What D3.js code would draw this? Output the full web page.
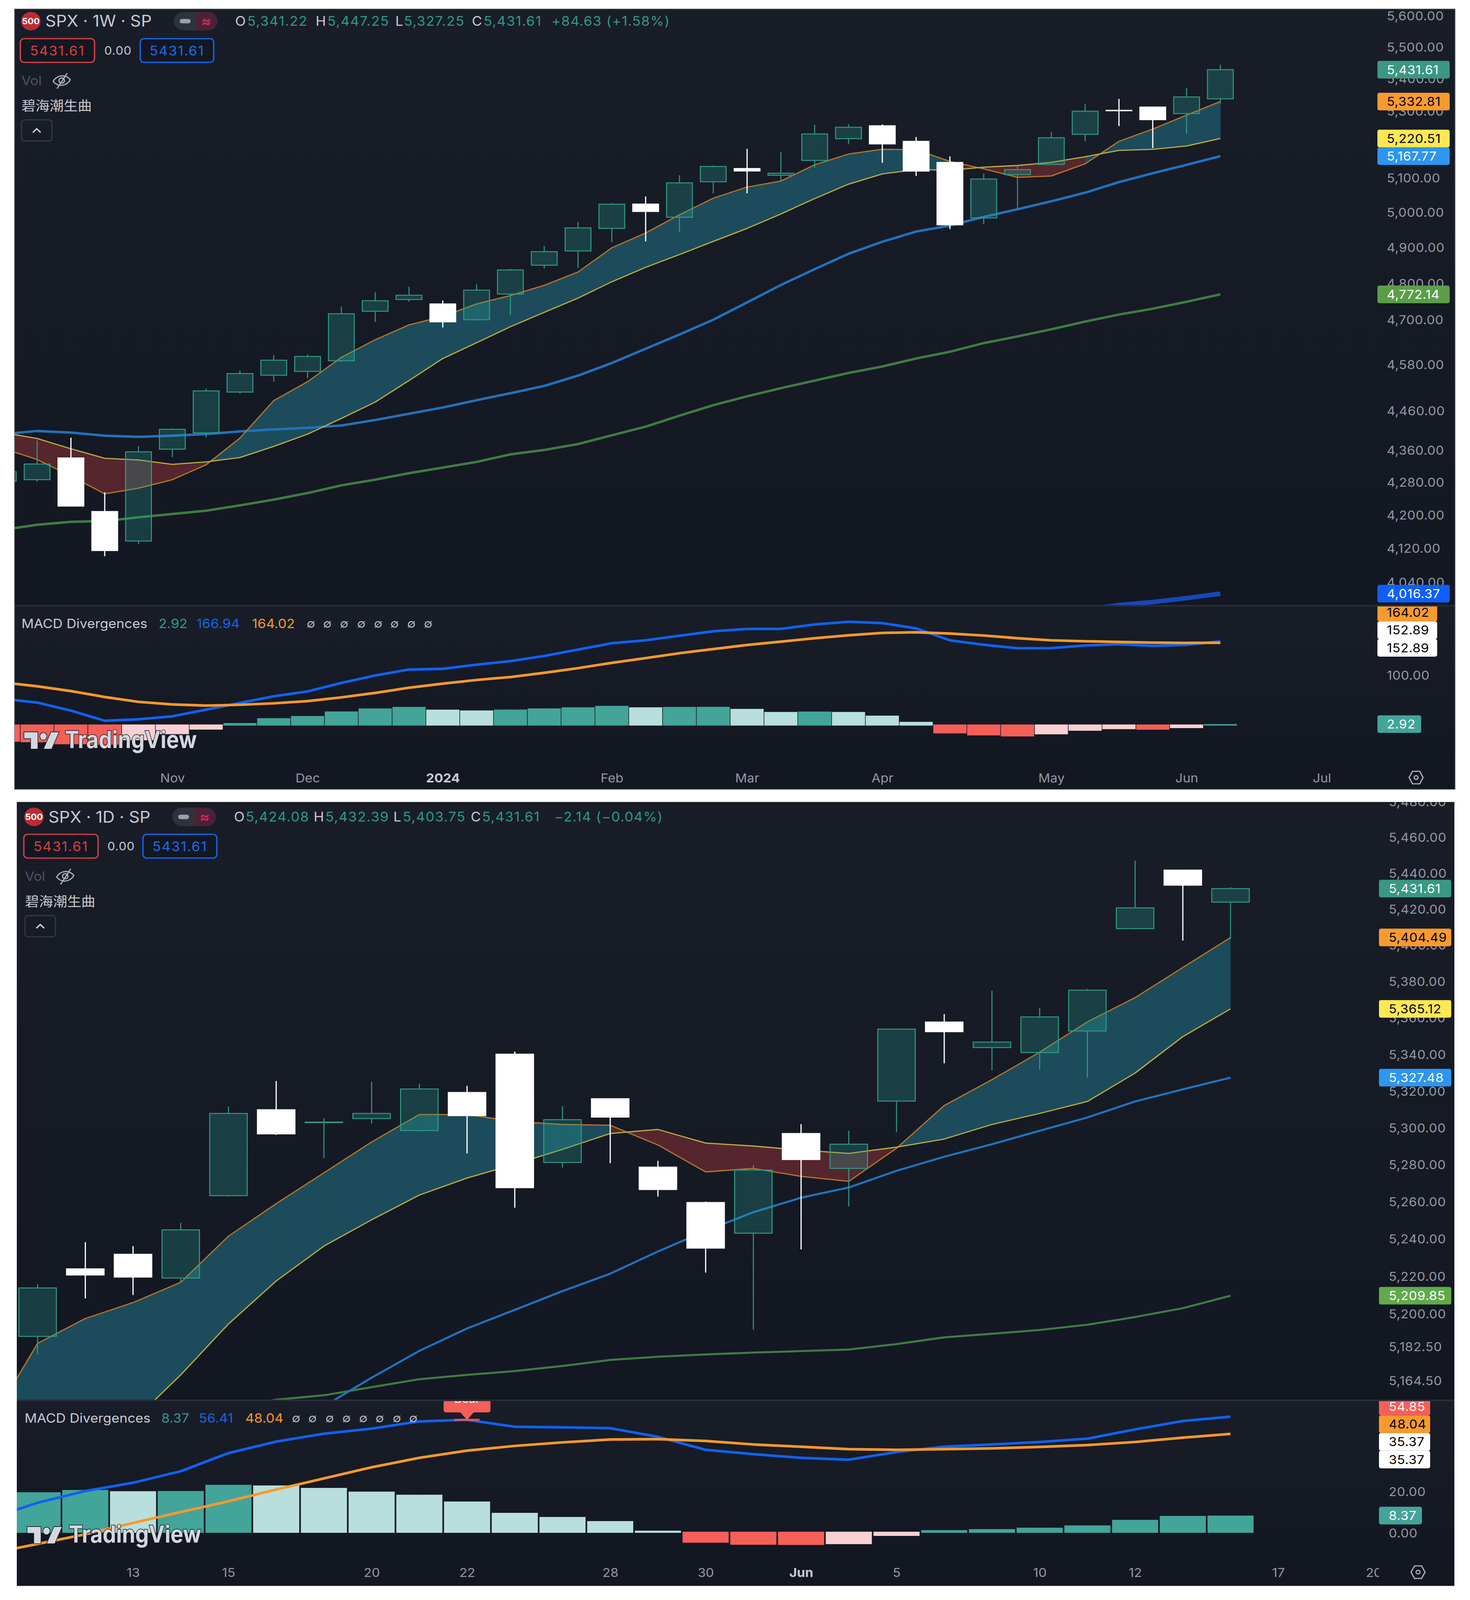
<!DOCTYPE html>
<html><head><meta charset="utf-8">
<script src="https://cdn.jsdelivr.net/npm/d3@7"></script>
<style>html,body{margin:0;padding:0;background:#fff;overflow:hidden}svg{display:block;width:100vw;height:100vh}
text{font-family:Inter,Roboto,"Noto Sans CJK SC",sans-serif}</style></head><body>
<svg id="c" viewBox="0 0 3763 4311" preserveAspectRatio="none"></svg>
<script>
// ---------- weekly chart data ----------
const wOpen=[4285,4289,4343,4211,4140,4365,4406,4511,4555,4565,4593,4726,4758,4746,4703,4773,4853,4893,4957,5027,4989,5092,5131,5111,5155,5220,5259,5212,5149,4987,5113,5143,5233,5306,5316,5296,5341.22];
const wHigh=[4317,4387,4394,4258,4373,4418,4520,4568,4608,4610,4739,4778,4793,4755,4800,4843,4907,4975,5030,5049,5111,5140,5189.5,5181,5262,5264,5263,5225,5167,5116,5139,5240,5325.5,5341,5316.5,5375,5447.25];
const wLow=[4280,4284,4223,4104,4133,4345,4394,4507,4538,4547,4590,4697,4752,4682,4701,4716,4844,4845,4918,4920,4947,5058,5058,5093,5133,5204,5148,5109,4955,4969,5012,5142,5212,5258,5192,5235,5327.25];
const wClose=[4308.5,4327.8,4224.2,4117.4,4358.3,4415.2,4514,4559.3,4594.6,4604.4,4719.2,4754.6,4769.8,4697.2,4783.8,4839.8,4891,4958.6,5026.6,5005.6,5088.8,5137.1,5123.7,5117.1,5234.2,5254.4,5204.3,5123.4,4967.2,5100,5127.8,5222.7,5303.3,5304.7,5277.5,5347,5431.61];
const wFast=[4367,4339,4298,4254,4268,4289,4326,4393,4489,4538,4602,4649,4689,4712,4746,4769,4797,4834,4902,4944,4996,5044,5076.5,5094,5142,5174,5188,5187,5152,5130,5105,5109,5145,5212,5249,5291.5,5332.81];
const wSlow=[4406.5,4392,4366,4342,4338,4327,4333,4344,4372,4403,4443,4485,4541,4599,4641,4684,4723,4762,4807,4847,4883,4920,4957,4998.4,5043,5085,5115,5128,5126,5135,5140,5149,5166,5185,5188,5198,5220.51];
const wBlue=[4403,4411,4407,4399,4396,4399,4403,4410,4415,4419,4425,4439,4455,4471,4490,4508,4527,4554,4587,4625,4663,4703,4750,4798,4842,4885,4919,4948,4965,4990,5012,5035,5060,5091,5117,5142,5167.77];
const wGreen=[4167,4179,4186,4188,4197,4205,4213,4226,4240,4256,4275,4289,4305,4319,4333,4352,4363,4378,4400,4422,4450,4477,4500,4521,4541,4561,4578,4599,4617,4640,4658,4677,4698,4717,4733,4752,4772.14];
const wDeep=[null,null,null,null,null,null,null,null,null,null,null,null,null,null,null,null,null,null,null,null,null,null,null,null,null,null,null,null,null,null,null,null,3980,3990,3997,4006,4016.37];
const wMacd=[53,45.6,29.7,9.6,12.5,18.4,31.6,44.9,58.1,67.6,84.6,99.3,111,112.5,120.6,127.7,138,150.5,163.2,168.9,178.1,186.8,191.5,191.5,200.4,205.7,203,192.6,168.9,160,153.2,153.4,158.7,161.3,157.9,160,166.94];
const wSignal=[85.3,77.9,68.4,56.6,47,41.9,39.7,41.2,44.1,48.5,55.9,64.7,75,83.1,90.4,96.2,104.6,113.8,124.3,133.7,143.4,151.6,159.7,166.3,173.1,178.9,183.6,184.9,182.3,178.4,173.1,168.9,167.1,165.7,164.4,163.9,164.02];
const wHist=[-32,-33,-37,-38,-29,-17,-8,5,14.7,19,28,34,37,31.6,30,31.8,34.1,36.2,39.1,36.2,37,37.2,33.1,27,27.8,27,19.7,7.4,-15.5,-19.4,-21.5,-17.3,-10.2,-7.1,-8.1,-5,2.92];
const wPriceTicks=[5600,5500,5400,5300,5200,5100,5000,4900,4800,4700,4580,4460,4360,4280,4200,4120,4040];
const wMacdTicks=[100];
const wTimeIdx=[5,9,13,18,22,26,31,35,39];
const wTimeLabels=["Nov","Dec","2024","Feb","Mar","Apr","May","Jun","Jul"];
const wTimeBold=["2024"];
// ---------- daily chart data ----------
const dOpen=[5188.2,5224.2,5232,5219.3,5263.5,5310,5303,5305.2,5298.7,5319.4,5340.3,5281.4,5316,5278.9,5259.8,5243.3,5297.1,5278.2,5314.7,5357.9,5343.9,5341.2,5353,5409.4,5441.9,5424.08];
const dHigh=[5216,5238.5,5236.4,5248.8,5311.7,5325.6,5305.4,5325.2,5324.1,5323,5341.8,5311.9,5316,5282.3,5260.3,5280,5302.2,5298.7,5354.4,5362.3,5375.1,5365.6,5376,5447.3,5441.9,5432.39];
const dLow=[5178.6,5208.4,5210.2,5217,5263,5296.3,5283.8,5302.5,5298.2,5286.3,5257,5278.6,5281,5263,5222.2,5191.8,5234.6,5257.7,5297.8,5335.3,5331.5,5331.7,5327.4,5409,5402.8,5403.75];
const dClose=[5214,5220.9,5219.8,5245.1,5308,5296.9,5303.3,5308,5321.3,5306.8,5267.8,5304.6,5306,5266.8,5235.3,5277.3,5283,5291.3,5354,5352.6,5346.9,5360.7,5375.4,5420.9,5433.5,5431.61];
const dFast=[5184.5,5197.7,5206.2,5217,5241.7,5259.2,5275.8,5292.5,5307.4,5307.4,5303.6,5302,5301.6,5290.9,5276.3,5278.2,5273.9,5271.2,5289.1,5312.3,5326.4,5341.4,5358,5371.3,5387.9,5404.49];
const dSlow=[5091,5118,5143.4,5167.8,5194.8,5217.7,5236.4,5250.5,5263.8,5273,5280.5,5288.5,5297.1,5299.3,5291.9,5290.3,5288.1,5286.3,5289.7,5294.1,5302,5308,5314.5,5330,5349.9,5365.12];
const dBlue=[null,null,null,null,null,5133.6,5151.2,5166.3,5180.5,5192.4,5202.3,5212.3,5221.6,5233.5,5244.5,5254.6,5262.4,5267.9,5276.9,5284.5,5291.3,5298.6,5305.8,5314.5,5321.1,5327.48];
const dGreen=[null,null,null,null,5150.2,5154.7,5157,5161.3,5165.5,5167.8,5169.8,5172.5,5175.7,5177.4,5178.6,5179.6,5180.4,5181.2,5184.1,5187.7,5189.6,5191.6,5194.4,5198.5,5203.2,5209.85];
const dMacd=[14.6,20.3,24.3,29.9,38.7,44.3,48.1,50.6,54.1,54.85,51.5,51.2,50.8,46.6,40.3,38.2,36.4,35.5,39.2,41.8,42.9,44.1,45.7,50.2,54.3,56.41];
const dSignal=[-5.4,-0.7,4.8,10.1,15.3,21,26.4,31.8,36.4,39.9,42.2,43.9,45.3,45.5,44.6,42.9,41.8,40.6,40.3,40.6,41,41.7,42.6,44.1,46.2,48.04];
const dHist=[19.7,20.8,20.2,20.3,23.3,23,21.8,20,18.5,15.2,9.7,7.7,5.7,1.05,-4.8,-5.8,-5.9,-5.5,-1.5,1.3,1.8,2.5,3.6,6.3,8.2,8.37];
// values of the bar just left of the visible daily window
const dPrevFast=5142, dPrevSlow=5060, dPrevMacd=7, dPrevSignal=-10;
const dPriceTicks=[5480,5460,5440,5420,5400,5380,5360,5340,5320,5300,5280,5260,5240,5220,5200,5182.5,5164.5];
const dMacdTicks=[20,0];
const dTimeIdx=[2,4,7,9,12,14,16,18,21,23,26,28];
const dTimeLabels=["13","15","20","22","28","30","Jun","5","10","12","17","20"];
const dTimeBold=["Jun"];
// ---------- header text ----------
const wOHLC=["5,341.22","5,447.25","5,327.25","5,431.61","+84.63 (+1.58%)"];
const dOHLC=["5,424.08","5,432.39","5,403.75","5,431.61","−2.14 (−0.04%)"];
const wTags=[[5431.61,"#3A9882","#fff"],[5332.81,"#F89A2E","#000"],[5220.51,"#FFE852","#000"],[5167.77,"#2E96F0","#fff"],[4772.14,"#5B9E47","#fff"],[4016.37,"#0F5FFF","#fff"]];
const dTags=[[5431.61,"#3A9882","#fff"],[5404.49,"#F89A2E","#000"],[5365.12,"#FFE852","#000"],[5327.48,"#2E96F0","#fff"],[5209.85,"#62A94C","#fff"]];
const wStack=[[164.02,"#F89A2E","#000"],[152.89,"#fff","#000"],[152.89,"#fff","#000"]];
const dStack=[[54.85,"#F55F58","#fff"],[48.04,"#F89A2E","#000"],[35.37,"#fff","#000"],[35.37,"#fff","#000"]];
const bearIndex=9, bearValue=54.85;

const svg=d3.select("#c");
const defs=svg.append("defs");
const grad=defs.append("linearGradient").attr("id","bg").attr("x1",0).attr("x2",0).attr("y1",0).attr("y2",1);
grad.append("stop").attr("offset",0).attr("stop-color","#191D28");
grad.append("stop").attr("offset",1).attr("stop-color","#131722");
const fmt=d3.format(",.2f"), fmt2=d3.format(".2f");
const GRAY="#C8CBD3", GREEN="#2F9A84", TICK="#9598A1";
function T(g,x,y,s,o={}){return g.append("text").attr("x",x).attr("y",y).attr("dy",".35em").text(s)
  .attr("font-size",o.size||36).attr("fill",o.fill||GRAY).attr("font-weight",o.weight||400)
  .attr("text-anchor",o.anchor||"start").attr("letter-spacing",o.ls||null);}
function clip(id,x,y,w,h){defs.append("clipPath").attr("id",id).append("rect").attr("x",x).attr("y",y).attr("width",w).attr("height",h);return `url(#${id})`;}
function tag(g,x,w,cy,label,bg,fg,size,textX,h){
  g.append("rect").attr("x",x).attr("y",cy-h/2).attr("width",w).attr("height",h).attr("rx",5).attr("fill",bg);
  T(g,textX,cy,label,{size,fill:fg,ls:.6});
}
function logo(g,x,y,textX,textW){
  const L=g.append("g").attr("fill","#D4D7DE").attr("stroke","#131722").attr("paint-order","stroke");
  const m=L.append("g").attr("transform",`translate(${x},${y-17}) scale(2.45,2.8)`).attr("stroke-width",1.2);
  m.append("path").attr("d","M14 6H0v6h7v10h7V6Z");
  m.append("path").attr("d","M28 6h8l-7.5 16h-8L28 6Z");
  m.append("circle").attr("cx",20).attr("cy",10).attr("r",3.4);
  L.append("text").attr("x",textX).attr("y",y+42).attr("font-size",64).attr("font-weight",700).attr("stroke-width",3).attr("textLength",textW).attr("lengthAdjust","spacingAndGlyphs").text("TradingView");
}
function eye(g,cx,cy){
  const e=g.append("g").attr("transform",`translate(${cx},${cy})`).attr("fill","none").attr("stroke","#B2B5BE").attr("stroke-width",3);
  e.append("path").attr("d","M-22 2C-12 -16 10 -18 22 -2C12 16 -10 18 -22 2Z");
  e.append("circle").attr("r",7);
  e.append("path").attr("d","M14 -20L-12 22");
}
function gear(g,cx,cy){
  const e=g.append("g").attr("transform",`translate(${cx},${cy})`).attr("fill","none").attr("stroke","#B2B5BE").attr("stroke-width",3);
  e.append("path").attr("d","M-9 -17H9L18 0L9 17H-9L-18 0Z");
  e.append("circle").attr("r",5);
}
function drawChart(c){
  const g=svg.append("g");
  const B=c.box;
  g.append("rect").attr("x",B.x0).attr("y",B.y0).attr("width",B.x1-B.x0).attr("height",B.y1-B.y0).attr("fill","#131722");
  g.append("rect").attr("x",B.x0).attr("y",B.y0).attr("width",B.x1-B.x0).attr("height",B.sep-B.y0).attr("fill","url(#bg)");
  g.append("rect").attr("x",B.x0).attr("y",B.sep).attr("width",B.x1-B.x0).attr("height",B.macdEnd-B.sep).attr("fill","url(#bg)");
  const n=c.close.length, idx=d3.range(n);
  const span=c.prev?[-1].concat(idx):idx;
  const pick=(a,key)=>i=>i<0?c.prev[key]:a[i];
  const x=d3.scaleLinear().domain([0,n-1]).range(c.xRange);
  const y=d3.scaleLog().domain(c.yDomain).range(c.yRange);
  const my=d3.scaleLinear().domain(c.mDomain).range(c.mRange);
  const mainClip=clip(c.id+"m",B.x0,B.y0,B.x1-B.x0,B.sep-B.y0);
  const macdClip=clip(c.id+"d",B.x0,B.sep+2,B.x1-B.x0,B.macdEnd-B.sep-2);
  const axisClip=clip(c.id+"a",B.x0,B.y0,3530-B.x0,B.y1-B.y0);
  const priceClip=clip(c.id+"p",B.x0,B.y0,B.x1-B.x0,B.y1-B.y0);
  // main pane
  const main=g.append("g").attr("clip-path",mainClip);
  const fast=pick(c.fast,"fast"), slow=pick(c.slow,"slow");
  const area=d3.area().x(i=>x(i)).y0(i=>y(fast(i))).y1(i=>y(slow(i)));
  main.selectAll("path.rib").data(span.slice(1)).join("path").attr("class","rib")
    .attr("d",i=>area([i-1,i])).attr("fill",i=>fast(i)>=slow(i)?"#1C4C5B":"#55262E")
    .attr("stroke",i=>fast(i)>=slow(i)?"#1C4C5B":"#55262E").attr("stroke-width",.8);
  const line=f=>d3.line().defined(i=>f(i)!=null).x(i=>x(i)).y(i=>y(f(i)))(span);
  const L=(f,col,w)=>main.append("path").attr("d",line(f)).attr("fill","none").attr("stroke",col).attr("stroke-width",w).attr("stroke-linejoin","round");
  L(i=>c.green[i],"#3F7C44",c.lw);
  if(c.deep)L(i=>c.deep[i],"#1848B8",12);
  L(i=>c.blue[i],"#2272BC",c.lw);
  L(fast,"#B5752A",3.2);
  L(slow,"#BBAA42",3.2);
  const up=i=>c.close[i]>=c.open[i];
  const top=i=>y(Math.max(c.open[i],c.close[i])), bot=i=>y(Math.min(c.open[i],c.close[i]));
  main.selectAll("path.w").data(idx).join("path").attr("class","w")
    .attr("d",i=>`M${x(i)} ${y(c.high[i])}V${top(i)}M${x(i)} ${bot(i)}V${y(c.low[i])}`)
    .attr("stroke",i=>up(i)?GREEN:"#fff").attr("stroke-width",i=>up(i)?2.6:3).attr("fill","none");
  main.selectAll("rect.b").data(idx).join("rect").attr("class","b")
    .attr("x",i=>x(i)-c.bw/2).attr("width",c.bw)
    .attr("y",top).attr("height",i=>Math.max(1,bot(i)-top(i)))
    .attr("fill",i=>up(i)?"rgb(38,166,154)":"#fff").attr("fill-opacity",i=>up(i)?.27:1)
    .attr("stroke",i=>up(i)?GREEN:"#fff").attr("stroke-width",2.6);
  // macd pane
  const pane=g.append("g").attr("clip-path",macdClip);
  const state=(a,i)=>a[i]>=0?(i===0||a[i]>a[i-1]?"#43A49A":"#B8DFDB"):(i===0||a[i]<a[i-1]?"#F55F58":"#F9D0D2");
  pane.selectAll("rect.h").data(idx).join("rect").attr("class","h")
    .attr("x",i=>x(i)-c.hw/2).attr("width",c.hw)
    .attr("y",i=>c.hist[i]>=0?my(c.hist[i]):my(0)-3)
    .attr("height",i=>c.hist[i]>=0?my(0)-my(c.hist[i]):my(c.hist[i])-my(0)+3)
    .attr("fill",i=>state(c.hist,i));
  const mline=f=>d3.line().x(i=>x(i)).y(i=>my(f(i)))(span);
  pane.append("path").attr("d",mline(pick(c.macd,"macd"))).attr("fill","none").attr("stroke","#0F62F0").attr("stroke-width",7).attr("stroke-linejoin","round");
  pane.append("path").attr("d",mline(pick(c.signal,"signal"))).attr("fill","none").attr("stroke","#F8992C").attr("stroke-width",7).attr("stroke-linejoin","round");
  if(c.bear){
    const bx=x(bearIndex), by=my(bearValue);
    pane.append("path").attr("d",`M${bx-60} ${by-60}H${bx+60}V${by-26}Q${bx+60} ${by-20} ${bx+54} ${by-20}H${bx+17}L${bx} ${by}L${bx-17} ${by-20}H${bx-54}Q${bx-60} ${by-20} ${bx-60} ${by-26}Z`).attr("fill","#F55F58");
    pane.append("rect").attr("x",bx-32).attr("y",by-3).attr("width",64).attr("height",6).attr("fill","#F55F58").attr("opacity",.8);
    T(pane,bx,by-57,"Bear",{size:30,fill:"#fff",anchor:"middle"});
  }
  g.append("rect").attr("x",B.x0).attr("y",B.sep-2).attr("width",B.x1-B.x0).attr("height",4).attr("fill","#2A2E39");
  logo(g,c.logo[0],c.logo[1],c.logo[2],c.logo[3]);
  // price axes
  const styleAxis=(sel)=>{sel.select(".domain").remove();sel.selectAll("line").remove();
    sel.selectAll("text").attr("font-size",33.5).attr("letter-spacing",.6).attr("fill",TICK).attr("x",0).attr("dy",".35em").style("font-family","Inter,Roboto,sans-serif");};
  g.append("g").attr("clip-path",priceClip).append("g").attr("transform",`translate(${c.axisX},${c.tickShift})`)
    .call(d3.axisRight(y).tickValues(c.priceTicks).tickFormat(fmt).tickSize(0)).call(styleAxis);
  g.append("g").attr("transform",`translate(${c.axisX},0)`)
    .call(d3.axisRight(my).tickValues(c.macdTicks).tickFormat(fmt2).tickSize(0)).call(styleAxis);
  // time axis
  g.append("g").attr("clip-path",axisClip).append("g").attr("transform",`translate(0,${c.timeY})`)
    .call(d3.axisBottom(x).tickValues(c.timeIdx).tickFormat((d,i)=>c.timeLabels[i]).tickSize(0))
    .call(s=>{s.select(".domain").remove();s.selectAll("line").remove();
      s.selectAll("text").attr("y",0).attr("dy",".35em").attr("font-size",33.5).attr("fill",function(){return c.timeBold.includes(this.textContent)?"#C8CBD3":TICK;})
       .attr("font-weight",function(){return c.timeBold.includes(this.textContent)?700:400;}).style("font-family","Inter,Roboto,sans-serif");});
  gear(g,c.gear[0],c.gear[1]);
  // last-value tags
  const tagG=g.append("g").attr("clip-path",priceClip);
  c.tags.forEach(t=>tag(tagG,c.tagX,185,y(t[0]),fmt(t[0]),t[1],t[2],33.5,c.axisX,47.5));
  const stackG=g.append("g").attr("clip-path",clip(c.id+"s",B.x0,B.sep+2,B.x1-B.x0,400));
  c.stack.forEach((t,i)=>tag(stackG,c.tagX,c.stackW,c.stackY+i*47.5,fmt2(t[0]),t[1],t[2],33.5,c.axisX,47.5));
  const lastH=c.hist[n-1];
  tag(g,c.tagX,c.histW,my(lastH),fmt2(lastH),"#43A49A","#fff",33.5,c.axisX,47.5);
  if(c.frame)g.append("rect").attr("x",B.x0).attr("y",B.y0).attr("width",B.x1-B.x0).attr("height",B.y1-B.y0).attr("fill","none").attr("stroke","#7b7e86").attr("stroke-width",1.5);
  // header
  const h=g.append("g"), H=c.head;
  h.append("circle").attr("cx",H.cx).attr("cy",H.cy).attr("r",25).attr("fill","#BC2C33");
  T(h,H.cx,H.cy,"500",{size:23,fill:"#fff",weight:700,anchor:"middle"});
  T(h,H.titleX,H.cy,c.title,{size:43,fill:GRAY});
  h.append("path").attr("d",`M${H.pill+56} ${H.cy-25}H${H.pill+25}A25 25 0 0 0 ${H.pill+25} ${H.cy+25}H${H.pill+56}Z`).attr("fill","#2E323C");
  h.append("path").attr("d",`M${H.pill+56} ${H.cy-25}H${H.pill+87}A25 25 0 0 1 ${H.pill+87} ${H.cy+25}H${H.pill+56}Z`).attr("fill","#4A2238");
  h.append("rect").attr("x",H.pill+15).attr("y",H.cy-6).attr("width",28).attr("height",12).attr("rx",6).attr("fill","#9CA0A8");
  T(h,H.pill+83,H.cy,"≈",{size:38,fill:"#D8245C",anchor:"middle",weight:700});
  ["O","H","L","C"].forEach((k,i)=>{
    T(h,H.o[i],H.cy,k,{size:35.5});
    T(h,H.v[i],H.cy,c.ohlc[i],{size:35.5,fill:GREEN,ls:1.6});
  });
  T(h,H.v[4],H.cy,c.ohlc[4],{size:35.5,fill:GREEN,ls:1.4});
  const bx=(x0,x1,col)=>h.append("rect").attr("x",x0).attr("y",H.boxY).attr("width",x1-x0).attr("height",64).attr("rx",10).attr("fill","#131722").attr("stroke",col).attr("stroke-width",3.5);
  bx(H.red[0],H.red[1],"#D04141");bx(H.blu[0],H.blu[1],"#1465E8");
  T(h,(H.red[0]+H.red[1])/2,H.boxY+33,"5431.61",{size:35.5,fill:"#D94040",anchor:"middle",ls:2});
  T(h,(H.blu[0]+H.blu[1])/2,H.boxY+33,"5431.61",{size:35.5,fill:"#1E6CEB",anchor:"middle",ls:2});
  T(h,H.zero,H.boxY+32,"0.00",{size:31,ls:1});
  T(h,H.tx,H.boxY+113,"Vol",{size:35,fill:"#50535E"});
  eye(h,H.tx+103,H.boxY+113);
  T(h,H.tx,H.boxY+181,"碧海潮生曲",{size:36}).style("font-family",'"Noto Sans CJK SC",sans-serif');
  h.append("rect").attr("x",H.tx).attr("y",H.boxY+219).attr("width",78).attr("height",57).attr("rx",8).attr("fill","none").attr("stroke","#363A45").attr("stroke-width",3);
  h.append("path").attr("d",`M${H.tx+29} ${H.boxY+253}L${H.tx+39} ${H.boxY+243}L${H.tx+49} ${H.boxY+253}`).attr("fill","none").attr("stroke","#D1D4DC").attr("stroke-width",3.5);
  // oscillator legend
  T(h,c.leg.x,c.leg.y,"MACD Divergences",{size:35});
  T(h,c.leg.v[0],c.leg.y,c.legV[0],{size:35,fill:"#2F9A8C"});
  T(h,c.leg.v[1],c.leg.y,c.legV[1],{size:35,fill:"#1465E8"});
  T(h,c.leg.v[2],c.leg.y,c.legV[2],{size:35,fill:"#F8992C"});
  c.leg.na.forEach(v=>T(h,v,c.leg.y,"∅",{size:32,fill:"#B2B5BE",anchor:"middle"}));
}
drawChart({id:"w",title:"SPX · 1W · SP",ohlc:wOHLC,open:wOpen,high:wHigh,low:wLow,close:wClose,fast:wFast,slow:wSlow,blue:wBlue,green:wGreen,deep:wDeep,frame:true,
  macd:wMacd,signal:wSignal,hist:wHist,priceTicks:wPriceTicks,macdTicks:wMacdTicks,timeIdx:wTimeIdx,timeLabels:wTimeLabels,timeBold:wTimeBold,tags:wTags,stack:wStack,
  box:{x0:37,x1:3725,y0:24,y1:2127,sep:1632,macdEnd:2060},xRange:[8.45,3124],yDomain:[5600,4040],yRange:[45,1572.1],mDomain:[0,100],mRange:[1955,1819],
  bw:66,hw:85,lw:6.5,axisX:3550,tickShift:-3,tagX:3526,stackW:153,stackY:1650.5,histW:112,timeY:2096,gear:[3625,2095],logo:[62,1973,166,338],legV:["2.92","166.94","164.02"],
  leg:{x:55,y:1680,v:[406,503,645],na:[796,838,881,925,968,1010,1053,1096]},
  head:{cx:79,cy:57,titleX:116,pill:445,o:[602,808,1012,1208],v:[633,838,1034,1238,1412],boxY:104,red:[52,242],blu:[359,547],zero:267,tx:55}});
drawChart({id:"d",title:"SPX · 1D · SP",ohlc:dOHLC,open:dOpen,high:dHigh,low:dLow,close:dClose,fast:dFast,slow:dSlow,blue:dBlue,green:dGreen,deep:null,
  prev:{fast:dPrevFast,slow:dPrevSlow,macd:dPrevMacd,signal:dPrevSignal},
  macd:dMacd,signal:dSignal,hist:dHist,priceTicks:dPriceTicks,macdTicks:dMacdTicks,timeIdx:dTimeIdx,timeLabels:dTimeLabels,timeBold:dTimeBold,tags:dTags,stack:dStack,bear:true,
  box:{x0:43,x1:3723,y0:2161,y1:4273,sep:3773,macdEnd:4200},xRange:[96.25,3150],yDomain:[5460,5164.5],yRange:[2257,3721.2],mDomain:[0,20],mRange:[4130,4019],
  bw:96,hw:118,lw:5.5,axisX:3555,tickShift:-1,tagX:3530,stackW:131,stackY:3790,histW:110,timeY:4237,gear:[3630,4236],logo:[70,4114,176,339],legV:["8.37","56.41","48.04"],
  leg:{x:63,y:3821,v:[413,509,628],na:[758,800,844,887,930,972,1016,1058]},
  head:{cx:87,cy:2201,titleX:124,pill:441,o:[599,803,1007,1205],v:[629,833,1031,1234,1419],boxY:2248,red:[61,251],blu:[366,555],zero:275,tx:64}});
</script></body></html>
